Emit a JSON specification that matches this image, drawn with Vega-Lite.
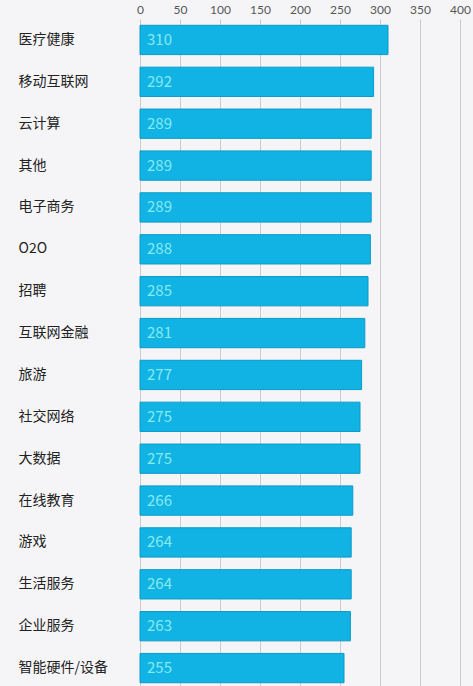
{
  "$schema": "https://vega.github.io/schema/vega-lite/v6.json",
  "autosize": "none",
  "width": 320,
  "height": 670,
  "padding": {"left": 140, "top": 19, "right": 13, "bottom": 0},
  "background": "#f5f5f7",
  "config": {
    "font": "Noto Sans CJK SC",
    "view": {"stroke": null},
    "axisX": {
      "orient": "top",
      "values": [0, 50, 100, 150, 200, 250, 300, 350, 400],
      "ticks": false,
      "domain": false,
      "labelPadding": 3,
      "labelFontSize": 12,
      "labelColor": "#555555",
      "labelFont": "Lato",
      "labelFlush": false,
      "labelOverlap": false,
      "grid": true,
      "gridColor": "#cccccc",
      "gridWidth": 1
    }
  },
  "data": {
    "values": [
      {"industry": "医疗健康", "value": 310},
      {"industry": "移动互联网", "value": 292},
      {"industry": "云计算", "value": 289},
      {"industry": "其他", "value": 289},
      {"industry": "电子商务", "value": 289},
      {"industry": "O2O", "value": 288},
      {"industry": "招聘", "value": 285},
      {"industry": "互联网金融", "value": 281},
      {"industry": "旅游", "value": 277},
      {"industry": "社交网络", "value": 275},
      {"industry": "大数据", "value": 275},
      {"industry": "在线教育", "value": 266},
      {"industry": "游戏", "value": 264},
      {"industry": "生活服务", "value": 264},
      {"industry": "企业服务", "value": 263},
      {"industry": "智能硬件/设备", "value": 255}
    ]
  },
  "encoding": {
    "y": {
      "field": "industry",
      "type": "nominal",
      "sort": null,
      "title": null,
      "scale": {"paddingInner": 0.3, "paddingOuter": 0.15},
      "axis": {
        "ticks": false,
        "domain": false,
        "labelAlign": "left",
        "labelPadding": 122,
        "labelFontSize": 14,
        "labelColor": "#222222",
        "grid": false
      }
    }
  },
  "layer": [
    {
      "mark": {"type": "bar", "color": "#10b3e4", "stroke": "#0b9bc8", "strokeWidth": 1},
      "encoding": {
        "x": {
          "field": "value",
          "type": "quantitative",
          "title": null,
          "scale": {"domain": [0, 400], "nice": false},
          "axis": {"orient": "top", "values": [0, 50, 100, 150, 200, 250, 300, 350, 400]}
        }
      }
    },
    {
      "mark": {"type": "text", "align": "left", "dx": 7, "fontSize": 15, "color": "#86eaf0", "baseline": "middle"},
      "encoding": {
        "x": {"datum": 0, "type": "quantitative", "title": null, "axis": {"orient": "top", "values": [0, 50, 100, 150, 200, 250, 300, 350, 400]}},
        "text": {"field": "value", "type": "quantitative"}
      }
    }
  ]
}
